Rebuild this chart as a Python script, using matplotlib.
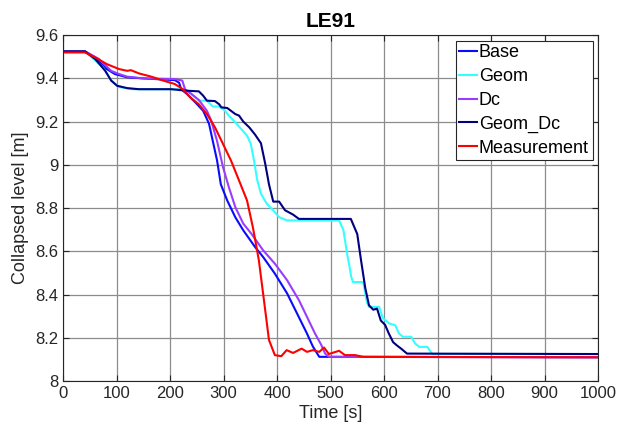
import numpy as np
import matplotlib
matplotlib.use('Agg')
import matplotlib.pyplot as plt

plt.rcParams['font.family'] = ['Liberation Sans', 'DejaVu Sans']

# Base
base_t = [0, 41, 60, 82, 97, 120, 150, 209, 217, 221, 232, 247, 262, 273, 280, 288, 295, 307, 322,
          337, 359, 374, 396, 419, 438, 456, 467, 479, 1000]
base_y = [9.525, 9.525, 9.497, 9.443, 9.42, 9.405, 9.40, 9.392, 9.38, 9.35, 9.327, 9.29, 9.25, 9.19, 9.11,
          9.02, 8.91, 8.835, 8.758, 8.697, 8.62, 8.574, 8.497, 8.405, 8.31, 8.22, 8.16, 8.112, 8.11]

# Geom
geom_t = [0, 41, 75, 90, 105, 130, 225, 239, 254, 269, 280, 292, 303, 310, 322, 333, 344, 351, 357,
          363, 370, 381, 393, 404, 419, 516, 524, 531, 539, 542, 561, 568, 572, 591, 598, 610, 621,
          628, 635, 651, 658, 666, 681, 690, 1000]
geom_y = [9.525, 9.525, 9.45, 9.39, 9.36, 9.35, 9.35, 9.33, 9.297, 9.297, 9.27, 9.27, 9.25, 9.228,
          9.197, 9.166, 9.135, 9.097, 9.02, 8.93, 8.866, 8.82, 8.79, 8.758, 8.743, 8.743, 8.70, 8.59,
          8.48, 8.458, 8.458, 8.365, 8.343, 8.343, 8.29, 8.266, 8.258, 8.22, 8.205, 8.205, 8.174,
          8.158, 8.158, 8.125, 8.125]

# Dc
dc_t = [0, 41, 67, 90, 105, 120, 150, 209, 223, 228, 239, 254, 269, 277, 288, 299, 310, 322, 337,
        352, 374, 396, 419, 441, 456, 471, 483, 490, 497, 1000]
dc_y = [9.525, 9.525, 9.49, 9.435, 9.42, 9.408, 9.40, 9.397, 9.39, 9.35, 9.33, 9.30, 9.25, 9.205,
        9.11, 8.99, 8.897, 8.805, 8.728, 8.682, 8.605, 8.543, 8.466, 8.374, 8.297, 8.22, 8.166,
        8.127, 8.112, 8.11]

# Geom_Dc
gdc_t = [0, 41, 60, 79, 90, 101, 120, 142, 202, 232, 254, 262, 269, 284, 292, 296, 307, 314, 322,
         329, 337, 348, 359, 370, 378, 385, 393, 404, 415, 430, 441, 538, 550, 557, 565, 572, 580,
         587, 594, 602, 609, 617, 624, 632, 643, 1000]
gdc_y = [9.525, 9.525, 9.49, 9.435, 9.39, 9.366, 9.355, 9.35, 9.35, 9.343, 9.34, 9.32, 9.297, 9.295,
         9.28, 9.266, 9.263, 9.25, 9.235, 9.228, 9.20, 9.174, 9.14, 9.10, 9.005, 8.91, 8.83, 8.83,
         8.79, 8.77, 8.75, 8.75, 8.68, 8.56, 8.43, 8.35, 8.33, 8.335, 8.28, 8.26, 8.22, 8.18, 8.165,
         8.15, 8.127, 8.125]

# Measurement
meas_t = [0, 41, 60, 82, 105, 120, 127, 142, 165, 187, 209, 224, 239, 254, 269, 284, 299, 314, 329,
          344, 355, 366, 374, 385, 396, 408, 418, 430, 446, 456, 467, 479, 488, 497, 516, 527, 546,
          561, 1000]
meas_y = [9.52, 9.52, 9.497, 9.466, 9.443, 9.435, 9.438, 9.423, 9.408, 9.39, 9.374, 9.35, 9.31, 9.28,
          9.235, 9.174, 9.097, 9.02, 8.928, 8.835, 8.71, 8.56, 8.405, 8.19, 8.12, 8.115, 8.143, 8.13,
          8.15, 8.135, 8.143, 8.135, 8.155, 8.125, 8.14, 8.12, 8.12, 8.112, 8.11]

fig = plt.figure(figsize=(6.25, 4.34), dpi=100)
ax = fig.add_axes([0.1008, 0.122, 0.856, 0.797])

lw = 1.5
ax.plot(base_t, base_y, color='#0a0aff', lw=lw, label='Base')
ax.plot(geom_t, geom_y, color='#33ffff', lw=lw, label='Geom')
ax.plot(dc_t, dc_y, color='#9a3cff', lw=lw, label='Dc')
ax.plot(gdc_t, gdc_y, color='#000080', lw=lw, label='Geom_Dc')
ax.plot(meas_t, meas_y, color='#ff0000', lw=lw, label='Measurement')

ax.set_xlim(0, 1000)
ax.set_ylim(8, 9.6)
ax.set_xticks(np.arange(0, 1001, 100))
ax.set_yticks([8, 8.2, 8.4, 8.6, 8.8, 9, 9.2, 9.4, 9.6])
ax.set_yticklabels(['8', '8.2', '8.4', '8.6', '8.8', '9', '9.2', '9.4', '9.6'])
ax.grid(True, color='#8c8c8c', lw=0.9)
ax.tick_params(direction='in', top=True, right=True, labelsize=12, length=4, colors='#262626')
for s in ax.spines.values():
    s.set_color('#262626')
    s.set_linewidth(0.8)

ax.set_title('LE91', fontsize=15, fontweight='bold', pad=6)
ax.set_xlabel('Time [s]', fontsize=13, color='#262626', labelpad=3)
ax.set_ylabel('Collapsed level [m]', fontsize=13, color='#262626', labelpad=4)

leg = ax.legend(loc='upper right', fontsize=13, handlelength=1.0, handletextpad=0.1,
                borderpad=0.2, labelspacing=0.38, borderaxespad=0.3, fancybox=False,
                framealpha=1, edgecolor='#262626')
leg.get_frame().set_linewidth(0.8)

fig.savefig('out.png', dpi=100)
